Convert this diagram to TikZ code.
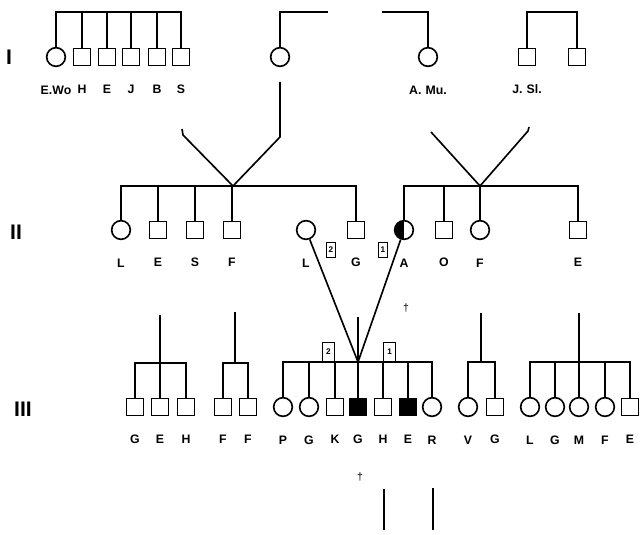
\documentclass[tikz,border=0pt]{standalone}
\usepackage{fontspec}
\setsansfont{Liberation Sans}

\begin{document}
\begin{tikzpicture}[x=0.03cm,y=-0.03cm,line width=1.4pt,font=\sffamily\bfseries,
  male/.style={rectangle,draw,minimum size=0.5cm,inner sep=0pt},
  fem/.style={circle,draw,minimum size=0.56cm,inner sep=0pt},
  aff/.style={fill=black},
  half/.style={path picture={\fill (path picture bounding box.south west)
                rectangle (path picture bounding box.north);}},
  every label/.style={font=\sffamily\bfseries\fontsize{10.5}{12}\selectfont,inner sep=0pt},
  label distance=0.53cm,
  num/.style={rectangle,draw,line width=1pt,minimum width=0.36cm,minimum height=0.56cm,
              inner sep=0pt,font=\sffamily\bfseries\scriptsize},
  numII/.style={num,minimum width=0.27cm,minimum height=0.46cm},
  gen/.style={font=\sffamily\bfseries\fontsize{18}{20}\selectfont,inner sep=0pt}]

  \useasboundingbox (0,0) rectangle (641,535);

  % generation I
  \node[gen] (gI) at (9,57) {I};
  \node[fem,label={below:E.Wo}] (ewo) at (56,57) {};
  \node[male,label={below:H}] (h1) at (82,57) {};
  \node[male,label={below:E}] (e1) at (107,57) {};
  \node[male,label={below:J}] (j1) at (131,57) {};
  \node[male,label={below:B}] (b1) at (157,57) {};
  \node[male,label={below:S}] (s1) at (181,57) {};
  \node[fem] (mo1) at (280,57) {};
  \node[fem,label={below:A.\,\,Mu.}] (amu) at (428,57) {};
  \node[male,label={below:J.\,\,Sl.}] (jsl) at (527,57) {};
  \node[male] (br1) at (577,57) {};

  \coordinate (bI) at (0,12);
  \coordinate (tl) at (328,12);
  \coordinate (tr) at (382,12);
  \draw (ewo.north) -- (ewo.north |- bI) -| (s1.north);
  \foreach \n in {h1,e1,j1,b1} {
    \draw (\n.north) -- (\n.north |- bI);
  }
  \draw (mo1.north) |- (tl);
  \draw (amu.north) |- (tr);
  \draw (jsl.north) -- (jsl.north |- bI) -| (br1.north);

  % generation II
  \node[gen] (gII) at (16,232) {II};
  \node[fem,label={below:L}] (l2) at (121,230) {};
  \node[male,label={below:E}] (e2) at (158,230) {};
  \node[male,label={below:S}] (s2) at (195,230) {};
  \node[male,label={below:F}] (f2) at (232,230) {};
  \node[fem,label={below:L}] (lw) at (306,230) {};
  \node[male,label={below:G}] (g2) at (356,230) {};
  \node[fem,half,label={below:A}] (a2) at (404,230) {};
  \node[male,label={below:O}] (o2) at (444,230) {};
  \node[fem,label={below:F}] (f2b) at (480,230) {};
  \node[male,label={below:E}] (e2b) at (578,230) {};

  \coordinate (jl) at (233,186);
  \coordinate (vl) at (182,129);
  \coordinate (vlk) at (183,135);
  \coordinate (mlk) at (280,137);
  \coordinate (ml) at (280,82);
  \draw (l2.north) |- (jl) -| (g2.north);
  \foreach \n in {e2,s2,f2} {
    \draw (\n.north) -- (\n.north |- jl);
  }
  \draw (vl) -- (vlk) -- (jl) -- (mlk) -- (ml);

  \coordinate (jr) at (480,186);
  \coordinate (vr1) at (431,132);
  \coordinate (vr2) at (528,131);
  \coordinate (vr3) at (529,127);
  \draw (a2.north) |- (jr) -| (e2b.north);
  \draw (o2.north) -- (o2.north |- jr);
  \draw (f2b.north) -- (jr);
  \draw (vr1) -- (jr) -- (vr2) -- (vr3);

  \node[numII] (n2a) at (331,250) {2};
  \node[numII] (n1a) at (383,250) {1};

  \coordinate (j3) at (358,362);
  \coordinate (j3t) at (358,317);
  \draw (lw) -- (j3);
  \draw (a2) -- (j3);
  \draw (j3t) -- (j3);
  \node[font=\sffamily\small] (dg1) at (406,308) {\textdagger};

  % generation III
  \node[gen] (gIII) at (23,409) {III};
  \node[male,label={below:G}] (g31) at (135,407) {};
  \node[male,label={below:E}] (e31) at (160,407) {};
  \node[male,label={below:H}] (h31) at (186,407) {};
  \node[male,label={below:F}] (f31) at (223,407) {};
  \node[male,label={below:F}] (f32) at (248,407) {};
  \node[fem,label={below:P}] (p3) at (283,407) {};
  \node[fem,label={below:G}] (g3) at (309,407) {};
  \node[male,label={below:K}] (k3) at (335,407) {};
  \node[male,aff,label={below:G}] (gg3) at (358,407) {};
  \node[male,label={below:H}] (h3) at (383,407) {};
  \node[male,aff,label={below:E}] (ee3) at (408,407) {};
  \node[fem,label={below:R}] (r3) at (432,407) {};
  \node[fem,label={below:V}] (v3) at (468,407) {};
  \node[male,label={below:G}] (g34) at (495,407) {};
  \node[fem,label={below:L}] (l35) at (530,407) {};
  \node[fem,label={below:G}] (g35) at (555,407) {};
  \node[fem,label={below:M}] (m35) at (579,407) {};
  \node[fem,label={below:F}] (f35) at (605,407) {};
  \node[male,label={below:E}] (e35) at (630,407) {};

  \coordinate (j31) at (160,363);
  \coordinate (t31) at (160,315);
  \draw (g31.north) |- (j31) -| (h31.north);
  \draw (t31) -- (e31.north);

  \coordinate (j32) at (235,363);
  \coordinate (t32) at (235,312);
  \draw (f31.north) |- (j32) -| (f32.north);
  \draw (t32) -- (j32);

  \draw (p3.north) |- (j3) -| (r3.north);
  \foreach \n in {g3,k3,gg3,h3,ee3} {
    \draw (\n.north) -- (\n.north |- j3);
  }
  \node[num,anchor=south east] (n2b) at (k3.north |- j3) {2};
  \node[num,anchor=south west] (n1b) at (h3.north |- j3) {1};

  \coordinate (j34) at (481,362);
  \coordinate (t34) at (481,313);
  \draw (v3.north) |- (j34) -| (g34.north);
  \draw (t34) -- (j34);

  \coordinate (j35) at (579,362);
  \coordinate (t35) at (579,313);
  \draw (l35.north) |- (j35) -| (e35.north);
  \draw (t35) -- (m35.north);
  \foreach \n in {g35,f35} {
    \draw (\n.north) -- (\n.north |- j35);
  }

  \node[font=\sffamily\small] (dg2) at (360,477) {\textdagger};

  \coordinate (bl1) at (384,489);
  \coordinate (bl1e) at (384,530);
  \coordinate (bl2) at (433,488);
  \coordinate (bl2e) at (433,530);
  \draw[line width=1.1pt] (bl1) -- (bl1e);
  \draw[line width=1.1pt] (bl2) -- (bl2e);
\end{tikzpicture}
\end{document}
